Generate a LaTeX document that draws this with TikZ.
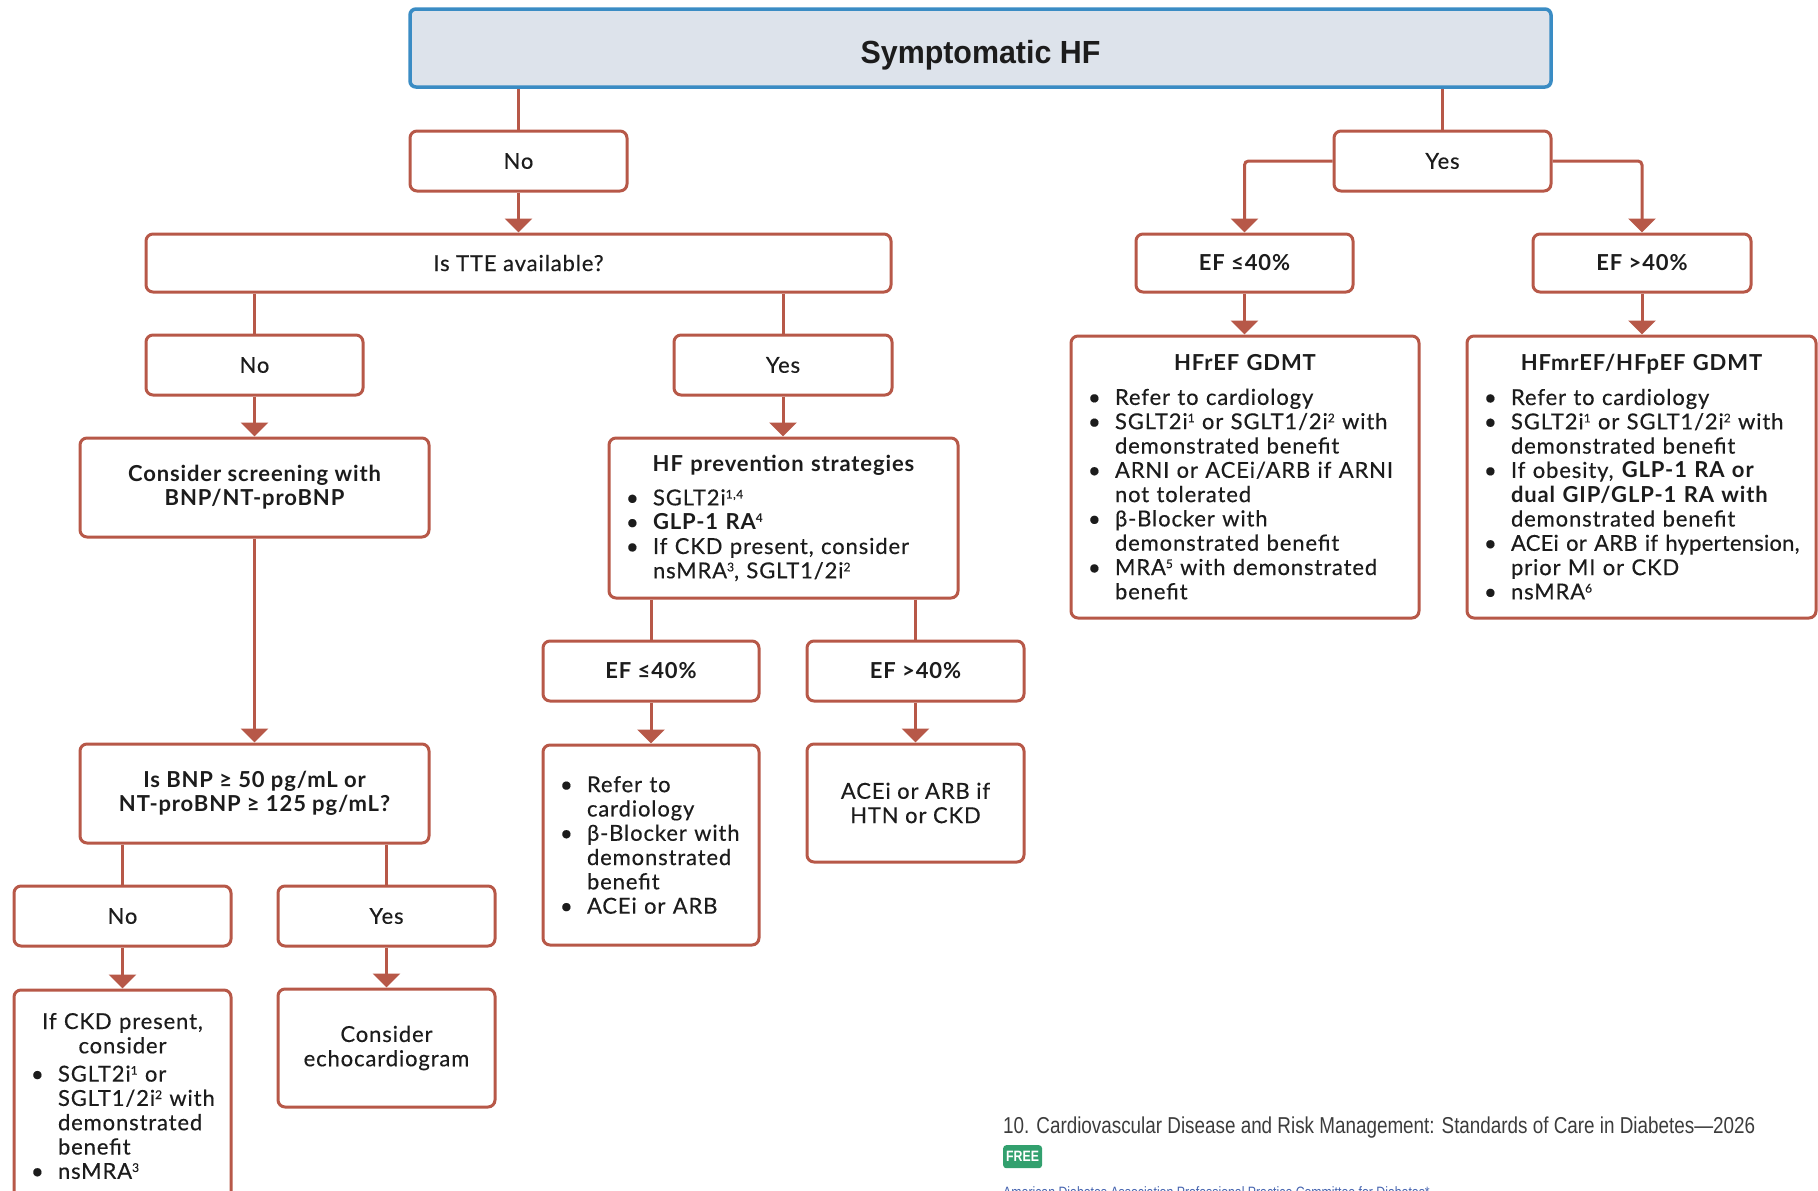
\documentclass[tikz,border=0pt]{standalone}
\usepackage{fontspec}
\setmainfont{Lato}[LetterSpace=4, UprightFeatures={FakeBold=0.35}]
\newfontfamily\narrowfont{Liberation Sans}[FakeStretch=0.82]
\newfontfamily\titlefont{Liberation Sans}[FakeStretch=0.95]
\usetikzlibrary{arrows.meta}

\definecolor{edgecol}{RGB}{183,88,72}
\definecolor{hdrfill}{RGB}{221,227,235}
\definecolor{hdrline}{RGB}{58,140,196}
\definecolor{txtcol}{RGB}{28,28,28}
\definecolor{badgecol}{RGB}{50,160,110}
\definecolor{linkcol}{RGB}{70,100,175}
\definecolor{citecol}{RGB}{60,60,60}

% bullet line with hanging indent; each item is its own paragraph
\newcommand\bitem[1]{\hangindent=29pt\hangafter=1\noindent\hbox to 29pt{\hskip2pt\textbullet\hfil}{#1}\par}
\newcommand\boxtitle[1]{\noindent\makebox[\linewidth]{\bfseries #1}\par\vspace{10pt}}
\newcommand\sps[1]{\raisebox{0.62ex}{\fontsize{12}{12}\selectfont #1}}

\tikzset{
  box/.style={draw=edgecol, line width=3pt, rounded corners=7pt, fill=white,
    align=center, inner sep=4pt, text=txtcol,
    font=\fontsize{22}{24.3}\selectfont},
  boldbox/.style={box, font=\bfseries\fontsize{22}{24.3}\selectfont},
  listbox/.style={box, align=left, inner xsep=15pt, inner ysep=6pt},
  conn/.style={draw=edgecol, line width=3pt},
  arr/.style={conn, rounded corners=4pt, -{Triangle[width=27pt,length=14pt]}},
}

\begin{document}
\begin{tikzpicture}[x=1pt, y=-1pt]
\useasboundingbox (0,0) rectangle (1818,1191);
\clip (0,0) rectangle (1818,1191);

% header
\node[draw=hdrline, line width=3.5pt, rounded corners=6pt, fill=hdrfill,
      minimum width=1141pt, minimum height=78pt] (top) at (980.5,48) {};
\node[text=txtcol, inner sep=0pt, font=\titlefont\bfseries\fontsize{32}{34}\selectfont]
  (toptext) at (980.5,55) {Symptomatic HF};

% first level
\node[box, minimum width=217pt, minimum height=60pt] (no1) at (518.5,161) {No};
\node[box, minimum width=217pt, minimum height=60pt] (yes1) at (1442.5,161) {Yes};

% left branch
\node[box, minimum width=745pt, minimum height=58pt] (tte) at (518.5,263) {Is TTE available?};
\node[box, minimum width=217pt, minimum height=60pt] (no2) at (254.5,365) {No};
\node[box, minimum width=218pt, minimum height=60pt] (yes2) at (783,365) {Yes};

\node[boldbox, minimum width=349pt, minimum height=99pt]
  (screen) at (254.5,487.5) {Consider screening with\\BNP/NT-proBNP};

\node[listbox, text width=319pt, minimum width=349pt, minimum height=160pt] (prev) at (783.5,518) {%
  \boxtitle{HF prevention strategies}%
  \bitem{SGLT2i\sps{1,4}}%
  \bitem{\bfseries GLP-1 RA\sps{4}}%
  \bitem{If CKD present, consider\newline nsMRA\sps{3}, SGLT1/2i\sps{2}}};

\node[boldbox, minimum width=216pt, minimum height=60pt] (efLm) at (651,671) {EF ≤40\%};
\node[boldbox, minimum width=217pt, minimum height=60pt] (efGm) at (915.5,671) {EF >40\%};

\node[listbox, text width=186pt, minimum width=216pt, minimum height=200pt] (refer) at (651,845) {%
  \bitem{Refer to\newline cardiology}%
  \bitem{β-Blocker with\newline demonstrated\newline benefit}%
  \bitem{ACEi or ARB}};
\node[box, minimum width=217pt, minimum height=118pt] (acei) at (915.5,803) {ACEi or ARB if\\HTN or CKD};

\node[boldbox, minimum width=349pt, minimum height=99pt]
  (bnp) at (254.5,793.5) {Is BNP ≥ 50 pg/mL or\\NT-proBNP ≥ 125 pg/mL?};
\node[box, minimum width=217pt, minimum height=60pt] (no3) at (122.5,916) {No};
\node[box, minimum width=217pt, minimum height=60pt] (yes3) at (386.5,916) {Yes};

\node[listbox, text width=187pt, minimum width=217pt, minimum height=212pt] (ckd) at (122.5,1096) {%
  \noindent\makebox[\linewidth]{If CKD present,}\par
  \noindent\makebox[\linewidth]{consider}\par\vspace{4pt}%
  \bitem{SGLT2i\sps{1} or\newline SGLT1/2i\sps{2} with\newline demonstrated\newline benefit}%
  \bitem{nsMRA\sps{3}}};
\node[box, minimum width=217pt, minimum height=118pt] (echo) at (386.5,1048) {Consider\\echocardiogram};

% right branch
\node[boldbox, minimum width=217pt, minimum height=58pt] (efLr) at (1244.5,263) {EF ≤40\%};
\node[boldbox, minimum width=218pt, minimum height=58pt] (efGr) at (1642,263) {EF >40\%};

\node[listbox, text width=318pt, minimum width=348pt, minimum height=282pt] (hfref) at (1245,477) {%
  \boxtitle{HFrEF GDMT}%
  \bitem{Refer to cardiology}%
  \bitem{SGLT2i\sps{1} or SGLT1/2i\sps{2} with\newline demonstrated benefit}%
  \bitem{ARNI or ACEi/ARB if ARNI\newline not tolerated}%
  \bitem{β-Blocker with\newline demonstrated benefit}%
  \bitem{MRA\sps{5} with demonstrated\newline benefit}};

\node[listbox, text width=319pt, minimum width=349pt, minimum height=282pt] (hfpef) at (1641.5,477) {%
  \boxtitle{HFmrEF/HFpEF GDMT}%
  \bitem{Refer to cardiology}%
  \bitem{SGLT2i\sps{1} or SGLT1/2i\sps{2} with\newline demonstrated benefit}%
  \bitem{If obesity, \textbf{GLP-1 RA or}\newline \textbf{dual GIP/GLP-1 RA with}\newline demonstrated benefit}%
  \bitem{\mbox{\addfontfeatures{LetterSpace=1}ACEi or ARB if hypertension,}\newline prior MI or CKD}%
  \bitem{nsMRA\sps{6}}};

% connectors
\draw[conn] (top.south -| no1.north) -- (no1.north);
\draw[conn] (top.south -| yes1.north) -- (yes1.north);
\draw[arr] (no1.south) -- (tte.north -| no1.south);
\draw[conn] (tte.south -| no2.north) -- (no2.north);
\draw[conn] (tte.south -| yes2.north) -- (yes2.north);
\draw[arr] (no2.south) -- (screen.north);
\draw[arr] (screen.south) -- (bnp.north);
\draw[arr] (yes2.south) -- (prev.north -| yes2.south);
\draw[conn] (prev.south -| efLm.north) -- (efLm.north);
\draw[conn] (prev.south -| efGm.north) -- (efGm.north);
\draw[arr] (efLm.south) -- (refer.north);
\draw[arr] (efGm.south) -- (acei.north);
\draw[conn] (bnp.south -| no3.north) -- (no3.north);
\draw[conn] (bnp.south -| yes3.north) -- (yes3.north);
\draw[arr] (no3.south) -- (ckd.north);
\draw[arr] (yes3.south) -- (echo.north);
\draw[arr] (yes1.west) -| (efLr.north);
\draw[arr] (yes1.east) -| (efGr.north);
\draw[arr] (efLr.south) -- (hfref.north -| efLr.south);
\draw[arr] (efGr.south) -- (hfpef.north -| efGr.south);

% citation block
\node[anchor=base west, inner sep=0pt, text=citecol, font=\narrowfont\fontsize{23}{26}\selectfont]
  (cite) at (1003,1133) {10. Cardiovascular Disease and Risk Management: Standards of Care in Diabetes—2026};
\node[anchor=north west, fill=badgecol, rounded corners=3pt, text=white, inner xsep=3pt, inner ysep=2pt,
      minimum width=37pt, minimum height=23pt, font=\narrowfont\bfseries\fontsize{15}{16}\selectfont]
  (free) at (1003,1145) {FREE};
\node[anchor=base west, inner sep=0pt, text=linkcol, font=\narrowfont\fontsize{15}{16}\selectfont]
  (authors) at (1003,1197) {American Diabetes Association Professional Practice Committee for Diabetes*};
\end{tikzpicture}
\end{document}
